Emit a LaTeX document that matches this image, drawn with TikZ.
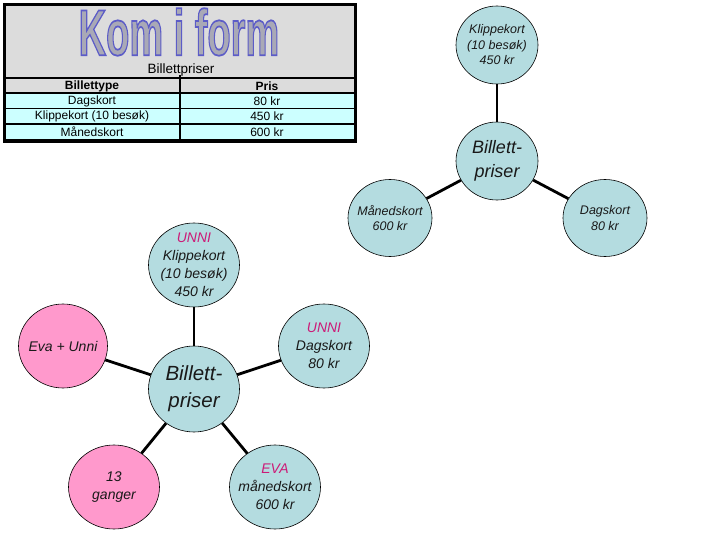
\documentclass[tikz,border=0pt]{standalone}
\usepackage{fontspec}
\setmainfont{Liberation Sans}
\usetikzlibrary{shapes.geometric}
\definecolor{bub}{HTML}{B4DCE0}
\definecolor{pinkb}{HTML}{FF99CC}
\definecolor{mag}{HTML}{CC1A77}
\definecolor{tgray}{HTML}{DCDCDC}
\definecolor{tcyan}{HTML}{CCFFFF}
\definecolor{waFill}{HTML}{A9A9B6}
\newcommand{\outlinedtext}[1]{\special{pdf:literal direct 2 Tr 1.1 w 0.36 0.36 0.78 RG}#1\special{pdf:literal direct 0 Tr 0 0 0 RG}}
\tikzset{
  bubble/.style={ellipse, draw=black, line width=0.6pt, fill=bub, inner sep=-14pt, align=center, text=black!90},
  pinkbubble/.style={bubble, fill=pinkb},
  smalltext/.style={font=\itshape\fontsize{12.5}{15.5}\selectfont},
  midtext/.style={font=\itshape\fontsize{14}{18}\selectfont},
  link/.style={line width=2.8pt, black},
  celltext/.style={font=\fontsize{12}{13}\selectfont, inner sep=0pt},
  wa/.style={font=\bfseries\fontsize{40}{40}\selectfont, xscale=0.95, yscale=1.62, inner sep=0pt},
}
\begin{document}
\begin{tikzpicture}[x=1pt,y=-1pt]
\useasboundingbox (0,0) rectangle (720,540);
% ---------- table ----------
\fill[tgray] (4.5,4.5) rectangle (355,142);
\fill[tcyan] (6,93) rectangle (353.5,140.5);
\draw[line width=1.4pt] (4.5,78) -- (355,78);
\draw[line width=2pt] (4.5,93) -- (355,93);
\draw[line width=1.2pt] (4.5,108.5) -- (355,108.5);
\draw[line width=2pt] (4.5,124) -- (355,124);
\draw[line width=2pt] (4.5,140) -- (355,140);
\draw[line width=2pt] (179.5,75) -- (179.5,141);
\draw[line width=3pt] (4.5,4.5) rectangle (355,142);
% WordArt title
\node[wa, text=waFill] (title) at (179,32) {\outlinedtext{Kom i form}};
\node[font=\fontsize{13.5}{15}\selectfont, inner sep=0pt] (bp) at (181,70) {Billettpriser};
\node[celltext, font=\bfseries\fontsize{12}{13}\selectfont] (h1) at (92,86) {Billettype};
\node[celltext, font=\bfseries\fontsize{12}{13}\selectfont] (h2) at (267,86) {Pris};
\node[celltext] (r1a) at (92,101) {Dagskort};
\node[celltext] (r1b) at (267,101) {80 kr};
\node[celltext] (r2a) at (92,116.5) {Klippekort (10 besøk)};
\node[celltext] (r2b) at (267,116.5) {450 kr};
\node[celltext] (r3a) at (92,132) {Månedskort};
\node[celltext] (r3b) at (267,132) {600 kr};
% ---------- top-right diagram ----------
\node[bubble, minimum width=82pt, minimum height=78pt, font=\itshape\fontsize{18}{23.5}\selectfont] (c1) at (497,161) {Billett-\\priser};
\node[bubble, smalltext, minimum width=82pt, minimum height=78pt] (k1) at (497,45) {Klippekort\\(10 besøk)\\450 kr};
\node[bubble, smalltext, minimum width=84pt, minimum height=77pt] (m1) at (390,218) {Månedskort\\600 kr};
\node[bubble, smalltext, minimum width=84pt, minimum height=77pt] (d1) at (605,218) {Dagskort\\80 kr};
\draw[link] (k1) -- (c1);
\draw[link] (m1) -- (c1);
\draw[link] (d1) -- (c1);
% ---------- bottom-left diagram ----------
\node[bubble, minimum width=91pt, minimum height=86pt, font=\itshape\fontsize{20.5}{27}\selectfont] (c2) at (194,389) {Billett-\\priser};
\node[bubble, midtext, minimum width=91pt, minimum height=84pt] (k2) at (194,265) {\textcolor{mag}{UNNI}\\Klippekort\\(10 besøk)\\450 kr};
\node[pinkbubble, midtext, minimum width=89pt, minimum height=84pt] (e2) at (63,346) {Eva + Unni};
\node[bubble, midtext, minimum width=91pt, minimum height=84pt] (d2) at (324,346) {\textcolor{mag}{UNNI}\\Dagskort\\80 kr};
\node[pinkbubble, midtext, minimum width=91pt, minimum height=84pt] (g2) at (114,487) {13\\ganger};
\node[bubble, midtext, minimum width=91pt, minimum height=84pt] (m2) at (275,487) {\textcolor{mag}{EVA}\\månedskort\\600 kr};
\draw[link] (k2) -- (c2);
\draw[link] (e2) -- (c2);
\draw[link] (d2) -- (c2);
\draw[link] (g2) -- (c2);
\draw[link] (m2) -- (c2);
\end{tikzpicture}
\end{document}
